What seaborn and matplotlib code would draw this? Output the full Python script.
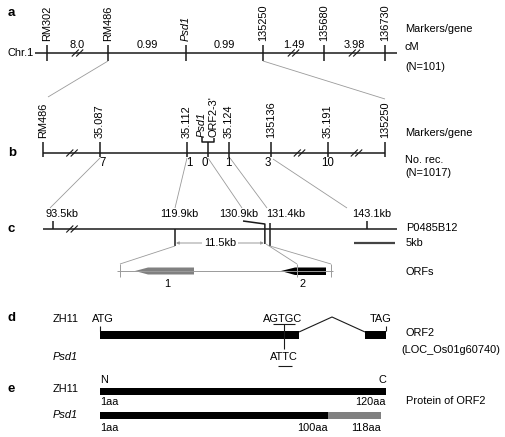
import numpy as np
import matplotlib
matplotlib.use("Agg")
import matplotlib.pyplot as plt
import seaborn as sns
from matplotlib.patches import Polygon, Rectangle

sns.set_theme(style="white")
plt.rcParams['font.family'] = ['Liberation Sans', 'DejaVu Sans']
plt.rcParams['text.color'] = 'black'

# ---- data ----
# a: genetic map of chromosome 1 (N=101)
a_markers = ["RM302", "RM486", "Psd1", "135250", "135680", "136730"]
a_cm = ["8.0", "0.99", "0.99", "1.49", "3.98"]
a_broken = [0, 3, 4]                      # intervals drawn with a break

# b: fine map (N=1017)
b_markers = ["RM486", "35.087", "35.112", "Psd1", "ORF2-3'", "35.124",
             "135136", "35.191", "135250"]
b_rec = ["7", "1", "0", "1", "3", "10"]
b_broken = [0, 6, 7]

# c: BAC P0485B12, positions in kb
c_kb = [93.5, 119.9, 130.9, 131.4, 143.1]
c_interval = 11.5
c_scale_kb = 5

# d: ORF2 gene (ZH11 vs Psd1)
d_wt_seq, d_mut_seq = "AGTGC", "ATTC"

# e: protein of ORF2 (aa)
e_zh11_len = 120
e_psd1_same = 100
e_psd1_len = 118

# ---- layout (drawing units = pixels) ----
W, H = 506, 437
fig = plt.figure(figsize=(W / 100, H / 100), dpi=100)
ax = fig.add_axes([0, 0, 1, 1])
ax.set_xlim(0, W)
ax.set_ylim(H, 0)
ax.axis('off')

FS = 7.9
GREY = "#9a9a9a"
RX = 405
LW = 1.1


def line(xs, ys, color='k', lw=LW):
    ax.plot(xs, ys, color=color, lw=lw, solid_capstyle='butt')


def brk(x, y):
    for dx in (-2.2, 2.2):
        line([x + dx - 3.5, x + dx + 3.5], [y + 3.5, y - 3.5], lw=0.8)


def txt(x, y, s, ha='left', va='center', **kw):
    ax.text(x, y, s, ha=ha, va=va, fontsize=kw.pop('fs', FS), **kw)


def letter(y, s):
    txt(8, y, s, fontweight='bold', fs=9.5)


# ---------- a ----------
a_x = [47, 108, 186, 263, 324, 385]
ya = 53
letter(13, "a")
txt(34, ya, "Chr.1", ha='right')
line([35, 397], [ya, ya])
for x, m in zip(a_x, a_markers):
    line([x, x], [ya - 8, ya + 8])
    txt(x, 41, m, ha='center', va='bottom', rotation=90,
        style='italic' if m == "Psd1" else 'normal')
for i, v in enumerate(a_cm):
    mid = (a_x[i] + a_x[i + 1]) / 2
    txt(mid, 44.5, v, ha='center')
    if i in a_broken:
        brk(mid, ya)
txt(RX, 29, "Markers/gene")
txt(RX, 47, "cM")
txt(RX, 67, "(N=101)")

# a -> b connectors
line([a_x[1], 48], [ya + 8, 97], color=GREY, lw=0.6)
line([a_x[3], 385], [ya + 8, 99], color=GREY, lw=0.6)

# ---------- b ----------
b_x = [43, 100, 187, 202, 214, 229, 271, 328, 385]
yb = 153
letter(153, "b")
line([43, 385], [yb, yb])
for x, m in zip(b_x, b_markers):
    if m in ("Psd1", "ORF2-3'"):
        txt(x, 137, m, ha='center', va='bottom', rotation=90,
            style='italic' if m == "Psd1" else 'normal')
    else:
        line([x, x], [yb - 11, yb + 4])
        txt(x, 138, m, ha='center', va='bottom', rotation=90)
# bracket joining Psd1 and ORF2-3'
line([b_x[3], b_x[3], b_x[4], b_x[4]], [137, 142, 142, 138])
line([208, 208], [142, yb + 4])
rec_x = [103, 189, 205, 228, 268, 328]    # counts sit under inner markers
for x, v in zip(rec_x, b_rec):
    txt(x, 163.5, v, ha='center', fs=FS + 0.4)
for i in b_broken:
    brk((b_x[i] + b_x[i + 1]) / 2 if i else 72, yb)
txt(RX, 133, "Markers/gene")
txt(RX, 160, "No. rec.")
txt(RX, 173, "(N=1017)")

# b -> c connectors
for (x0, y0), (x1, y1) in [((100, 158), (50, 208)), ((187, 158), (175, 208)),
                           ((208, 158), (242, 208)), ((230, 158), (267, 208)),
                           ((273, 159), (347, 208))]:
    line([x0, x1], [y0, y1], color=GREY, lw=0.6)

# ---------- c ----------
yc = 229
px_per_kb = 95 / c_interval


def kbx(kb):
    if kb < 100:          # left of the break
        return 53
    return 175 + (kb - 119.9) * px_per_kb


letter(229, "c")
line([43, 397], [yc, yc])
brk(72, yc)
cx = [kbx(k) for k in c_kb]
label_dx = [9, 4, -27, 16, 5]
for k, x, dx in zip(c_kb, cx, label_dx):
    txt(x + dx, 214, f"{k}kb", ha='center')
line([cx[0], cx[0]], [221, yc])
line([cx[4], cx[4]], [221, yc])
line([cx[1], cx[1]], [yc, 246])
line([cx[3], cx[3]], [223, 246])
line([243, cx[2] - 1, cx[2] - 1], [221, 224, 244])
# 11.5 kb interval arrow
ax.annotate("", xy=(cx[1] + 1, 243), xytext=(cx[2] - 2, 243),
            arrowprops=dict(arrowstyle='<|-|>', color=GREY, lw=0.7,
                            mutation_scale=4, shrinkA=0, shrinkB=0))
txt(220, 243, f"{c_interval}kb", ha='center',
    bbox=dict(facecolor='white', edgecolor='none', pad=1.2))
# scale bar
line([354, 354 + c_scale_kb * px_per_kb], [243, 243], color='#444', lw=1.6)
txt(RX + 1, 228, "P0485B12")
txt(RX + 1, 243, f"{c_scale_kb}kb")

# ORFs
yo = 271
line([117, 333], [yo, yo], color=GREY, lw=0.7)
for x in (120, 297, 331):
    line([x, x], [264, 277], color=GREY, lw=0.7)
line([cx[1], 120], [246, 264], color=GREY, lw=0.6)
line([266, 297], [244, 264], color=GREY, lw=0.6)
line([cx[3], 331], [246, 264], color=GREY, lw=0.6)
ax.add_patch(Polygon([(135, yo), (148, 267.5), (194, 267.5), (194, 274.5),
                      (148, 274.5)], closed=True, facecolor='#808080',
                     edgecolor='none'))
ax.add_patch(Polygon([(281, yo), (295, 267.5), (326, 267.5), (326, 275),
                      (295, 275)], closed=True, facecolor='black',
                     edgecolor='none'))
line([297, 297], [268, 275], color=GREY, lw=0.7)
txt(167, 284, "1", ha='center')
txt(303, 284, "2", ha='center')
txt(RX + 1, 272, "ORFs")

# ---------- d ----------
letter(318, "d")
txt(53, 319, "ZH11")
txt(53, 357, "Psd1", style='italic')
txt(103, 319, "ATG", ha='center')
txt(381, 319, "TAG", ha='center')
txt(283, 319, d_wt_seq, ha='center')
txt(284, 357, d_mut_seq, ha='center')
line([273, 295], [324, 324], lw=0.8)
line([278, 292], [365.5, 365.5], lw=0.8)
line([284, 284], [324, 349], lw=0.8)
ax.add_patch(Rectangle((100, 331), 199, 8, facecolor='black', edgecolor='none'))
ax.add_patch(Rectangle((365, 331), 21, 8, facecolor='black', edgecolor='none'))
line([299, 332, 365], [332, 317, 332], lw=0.8)
line([100, 100], [326, 331], lw=0.8)
line([386, 386], [326, 331], lw=0.8)
txt(RX + 1, 333, "ORF2")
txt(401, 350, "(LOC_Os01g60740)")

# ---------- e ----------
aa_x = lambda a: np.interp(a, [1, e_psd1_same, e_psd1_len, e_zh11_len],
                           [100, 328, 381, 386])
letter(389, "e")
txt(53, 389, "ZH11")
txt(53, 415, "Psd1", style='italic')
txt(100, 380, "N")
txt(aa_x(e_zh11_len), 380, "C", ha='right')
ax.add_patch(Rectangle((aa_x(1), 388), aa_x(e_zh11_len) - aa_x(1), 7,
                       facecolor='black', edgecolor='none'))
txt(100, 402, "1aa")
txt(aa_x(e_zh11_len), 402, f"{e_zh11_len}aa", ha='right')
ax.add_patch(Rectangle((aa_x(1), 412), aa_x(e_psd1_same) - aa_x(1), 6.5,
                       facecolor='black', edgecolor='none'))
ax.add_patch(Rectangle((aa_x(e_psd1_same), 412),
                       aa_x(e_psd1_len) - aa_x(e_psd1_same), 6.5,
                       facecolor='#808080', edgecolor='none'))
txt(100, 428, "1aa")
txt(aa_x(e_psd1_same), 428, f"{e_psd1_same}aa", ha='right')
txt(aa_x(e_psd1_len), 428, f"{e_psd1_len}aa", ha='right')
txt(RX + 1, 401, "Protein of ORF2")

fig.savefig("out.png", dpi=100, facecolor='white')
